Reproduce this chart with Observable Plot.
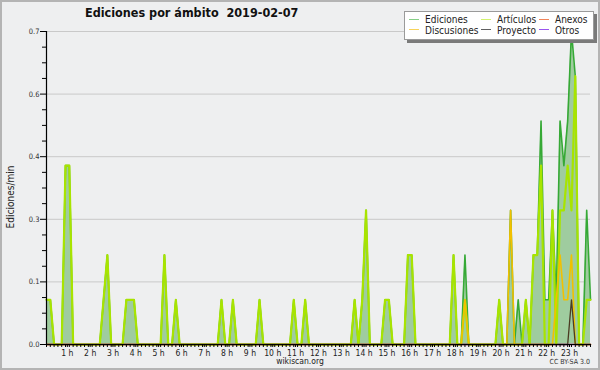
<!DOCTYPE html>
<html><head><meta charset="utf-8">
<script src="https://cdn.jsdelivr.net/npm/d3@7"></script>
<script src="https://cdn.jsdelivr.net/npm/@observablehq/plot@0.6"></script>
<style>
body{margin:0;background:#fff;}
#wrap{position:relative;width:600px;height:370px;background:#eeeff0;font-family:"DejaVu Sans Condensed","DejaVu Sans",sans-serif;color:#222;overflow:hidden;}
#wrap svg{position:absolute;left:0;top:0;}
#frame{position:absolute;left:0;top:0;width:600px;height:370px;box-sizing:border-box;border:2px solid #b4b4b4;pointer-events:none;}
.t{position:absolute;white-space:nowrap;line-height:1;}
#title{left:85px;top:7px;font-weight:bold;font-size:12.5px;color:#111;}
#ylab{left:11px;top:197px;font-size:10px;transform:translate(-50%,-50%) rotate(-90deg);}
#site{left:300px;top:357px;font-size:8.5px;transform:translateX(-50%);}
#lic{right:10px;top:359px;font-size:7px;color:#333;}
#legend{position:absolute;left:404px;top:11px;width:188px;height:27px;background:#fff;border:1px solid #9a9a9a;box-shadow:3px 3px 0 #7a7a7a;}
.lg{position:absolute;font-size:10px;line-height:10px;color:#222;}
.lg i{display:inline-block;width:10px;height:0;border-top:1px solid;vertical-align:middle;margin-right:6px;position:relative;top:-1px;}
</style></head>
<body>
<div id="wrap">
  <div id="chart"></div>
  <div id="title" class="t">Ediciones por ámbito&nbsp;&nbsp;2019-02-07</div>
  <div id="ylab" class="t">Ediciones/min</div>
  <div id="site" class="t">wikiscan.org</div>
  <div id="lic" class="t">CC BY-SA 3.0</div>
  <div id="legend"></div>
  <div id="frame"></div>
</div>
<script>
// 10-minute slots of 2019-02-07 (index 0 = 00:00 ... 143 = 23:50), edits per minute
const ediciones = [
  .1,.1,0,0,0,.4,   .4,0,0,0,0,0,   0,0,0,.1,.2,0,   0,0,0,.1,.1,.1,
  0,0,0,0,0,0,      0,.2,0,0,.1,0,  0,0,0,0,0,0,     0,0,0,0,.1,0,
  0,.1,0,0,0,0,     0,0,.1,0,0,0,   0,0,0,0,0,.1,    0,0,.1,0,0,0,
  0,0,0,0,0,0,      0,0,0,.1,0,.1,  .3,0,0,0,0,.1,   .1,0,0,0,0,.2,
  .2,0,0,0,0,0,     0,0,0,0,0,.2,   0,0,.2,0,0,0,    0,0,0,0,0,.1,
  0,0,.3,0,.1,0,    .1,0,.2,.2,.5,.1, .1,.3,.1,.5,.4,.5, .7,.6,0,0,.3,.1
];
const articulos = [
  .1,.1,0,0,0,.4,   .4,0,0,0,0,0,   0,0,0,.1,.2,0,   0,0,0,.1,.1,.1,
  0,0,0,0,0,0,      0,.2,0,0,.1,0,  0,0,0,0,0,0,     0,0,0,0,.1,0,
  0,.1,0,0,0,0,     0,0,.1,0,0,0,   0,0,0,0,0,.1,    0,0,.1,0,0,0,
  0,0,0,0,0,0,      0,0,0,.1,0,.1,  .3,0,0,0,0,.1,   .1,0,0,0,0,.2,
  .2,0,0,0,0,0,     0,0,0,0,0,.2,   0,0,.1,0,0,0,    0,0,0,0,0,.1,
  0,0,0,0,0,0,      .1,0,.2,.2,.4,0, 0,.3,0,.3,.3,.4, .3,.6,0,0,.1,.1
];
const discusiones = [
  0,0,0,0,0,0, 0,0,0,0,0,0, 0,0,0,0,0,0, 0,0,0,0,0,0,
  0,0,0,0,0,0, 0,0,0,0,0,0, 0,0,0,0,0,0, 0,0,0,0,0,0,
  0,0,0,0,0,0, 0,0,0,0,0,0, 0,0,0,0,0,0, 0,0,0,0,0,0,
  0,0,0,0,0,0, 0,0,0,0,0,0, 0,0,0,0,0,0, 0,0,0,0,0,0,
  0,0,0,0,0,0, 0,0,0,0,0,0, 0,0,.1,0,0,0, 0,0,0,0,0,0,
  0,0,.3,0,0,0, 0,0,0,0,0,0, 0,0,.1,.2,.1,.1, .2,0,0,0,0,0
];
const proyecto = [
  0,0,0,0,0,0, 0,0,0,0,0,0, 0,0,0,0,0,0, 0,0,0,0,0,0,
  0,0,0,0,0,0, 0,0,0,0,0,0, 0,0,0,0,0,0, 0,0,0,0,0,0,
  0,0,0,0,0,0, 0,0,0,0,0,0, 0,0,0,0,0,0, 0,0,0,0,0,0,
  0,0,0,0,0,0, 0,0,0,0,0,0, 0,0,0,0,0,0, 0,0,0,0,0,0,
  0,0,0,0,0,0, 0,0,0,0,0,0, 0,0,0,0,0,0, 0,0,0,0,0,0,
  0,0,0,0,0,0, 0,0,0,0,0,0, 0,0,0,0,0,0, .1,0,0,0,0,0
];
const anexos = new Array(144).fill(0);
const otros = new Array(144).fill(0);

const slots = d3.range(144);                 // 10-minute slot index
const hourTicks = d3.range(6, 144, 6);        // slot of each full hour 1..23
const hourLabels = ["1 h","2 h","3 h","4 h","5 h","6 h","7 h","8 h","9 h","10 h","11 h","12 h",
  "13 h","14 h","15 h","16 h","17 h","18 h","19 h","20 h","21 h","22 h","23 h"];
const yMajor = [0, 0.14, 0.28, 0.42, 0.56, 0.7];
const yMinor = [0.035,0.07,0.105,0.175,0.21,0.245,0.315,0.35,0.385,0.455,0.49,0.525,0.595,0.63,0.665];

const seriesNames = ["Ediciones","Artículos","Anexos","Discusiones","Proyecto","Otros"];
const legendColors = ["#86cf86","#d2f26e","#f0845a","#f7d35a","#606060","#9a55ee"];

const rows = slots.map(i => ({i, E: ediciones[i], A: articulos[i], D: discusiones[i], P: proyecto[i], N: anexos[i], O: otros[i]}));

const chart = Plot.plot({
  width: 600, height: 370,
  marginLeft: 46, marginRight: 10, marginTop: 31, marginBottom: 26,
  style: {background: "transparent", fontFamily: "'DejaVu Sans Condensed','DejaVu Sans',sans-serif", color: "#222"},
  x: {domain: [0, 143], axis: null},
  y: {domain: [0, 0.7], axis: null},
  marks: [
    Plot.ruleY(yMajor.slice(1), {stroke: "#c9c9c9", strokeWidth: 1}),
    Plot.areaY(rows, {x: "i", y: "E", fill: "#9fcc9f", curve: "linear"}),
    Plot.line(rows, {x: "i", y: "N", stroke: "#f0845a", strokeWidth: 1.5}),
    Plot.line(rows, {x: "i", y: "O", stroke: "#9a55ee", strokeWidth: 1.5}),
    Plot.line(rows, {x: "i", y: "E", stroke: "#36a936", strokeWidth: 1.6}),
    Plot.line(rows, {x: "i", y: "A", stroke: "#a8e400", strokeWidth: 2.2}),
    Plot.line(rows, {x: "i", y: "D", stroke: "#f2c000", strokeWidth: 1.6}),
    Plot.line(rows, {x: "i", y: "P", stroke: "#4b3b22", strokeWidth: 1.3}),
    Plot.ruleY([0], {stroke: "#000", strokeWidth: 1.2}),
    Plot.ruleX([0], {stroke: "#000", strokeWidth: 1.2}),
    Plot.axisY({ticks: yMinor, tickSize: 4, tickFormat: () => "", stroke: "#000", label: null}),
    Plot.axisY({ticks: yMajor, tickSize: 6, tickPadding: 1, tickFormat: d3.format(".1f"), fontSize: 7.5, fill: "#333", stroke: "#000", label: null}),
    Plot.axisX({ticks: slots, tickSize: 3, tickFormat: () => "", stroke: "#000", label: null}),
    Plot.axisX({ticks: hourTicks, tickSize: 3, tickPadding: 2, tickFormat: (d) => hourLabels[hourTicks.indexOf(d)], fontSize: 8.5, fill: "#222", stroke: "#000", dx: -2, label: null})
  ]
});
document.getElementById("chart").appendChild(chart);

const lg = document.getElementById("legend");
const cols = [[4, 20], [76, 92], [134, 151]];
seriesNames.forEach((name, k) => {
  const c = k % 3, r = Math.floor(k / 3);
  const el = document.createElement("div");
  el.className = "lg";
  el.style.left = cols[c][0] + "px";
  el.style.top = (3 + r * 10.5) + "px";
  el.innerHTML = `<i style="border-color:${legendColors[k]}"></i>${name}`;
  lg.appendChild(el);
});
</script>
</body></html>
